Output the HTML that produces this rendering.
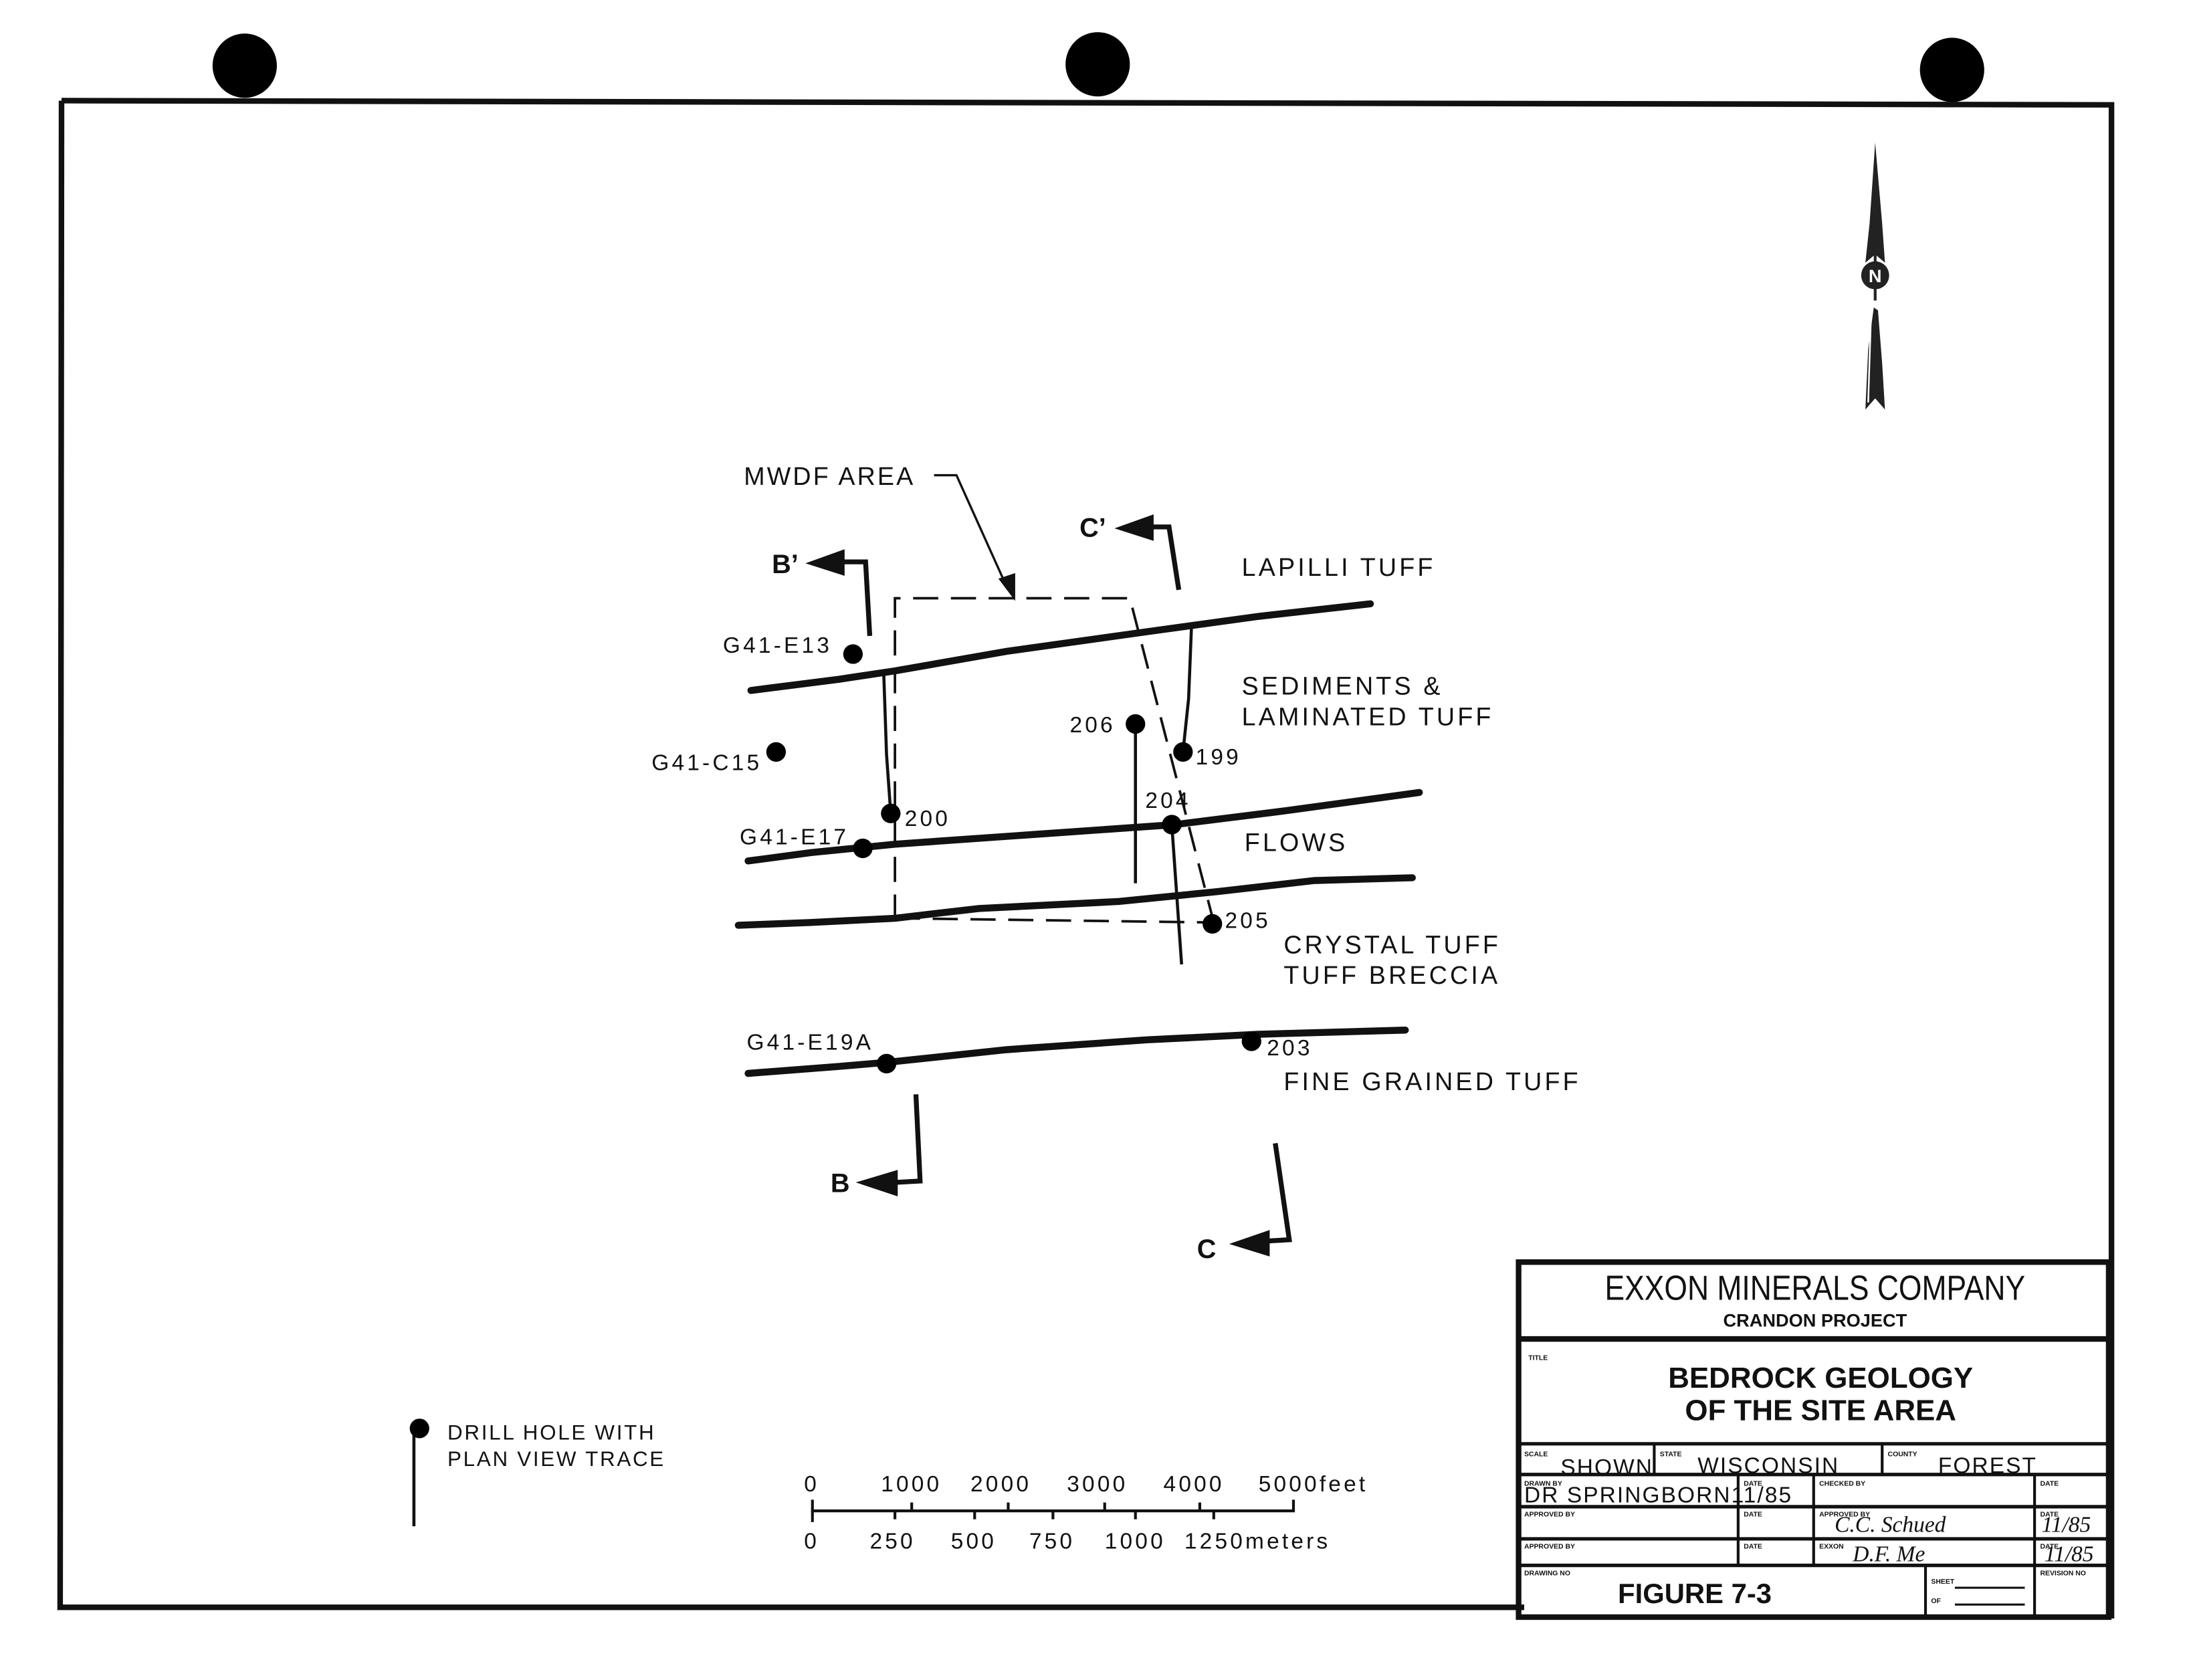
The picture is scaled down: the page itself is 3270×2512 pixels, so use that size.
<!DOCTYPE html>
<html><head><meta charset="utf-8"><style>
html,body{margin:0;padding:0;background:#fff;}
svg{display:block;}
text{font-family:"Liberation Sans",sans-serif;fill:#111;}
</style></head><body>
<svg width="3270" height="2512" viewBox="0 0 1564 1202" preserveAspectRatio="none" xmlns="http://www.w3.org/2000/svg">
<rect width="1564" height="1202" fill="#fff"/>
<circle cx="175" cy="47" r="23" fill="#000"/>
<circle cx="785" cy="46" r="23" fill="#000"/>
<circle cx="1396" cy="50" r="23" fill="#000"/>
<polyline points="44,72 1510,75 1510,1158" fill="none" stroke="#111" stroke-width="4"/>
<polyline points="44,72 43,1150 1090,1150" fill="none" stroke="#111" stroke-width="4"/>
<polygon points="1341,102 1346,160 1348,188 1341,182 1334,188 1337,160" fill="#222"/>
<line x1="1341" y1="182" x2="1341" y2="215" stroke="#222" stroke-width="2"/>
<circle cx="1341" cy="197" r="10" fill="#222"/>
<text x="1341" y="202" font-size="13" font-weight="bold" text-anchor="middle" style="fill:#fff">N</text>
<polygon points="1340,220 1343,222 1346,260 1348,293 1341,285 1334,293 1336,250" fill="#222"/>
<line x1="1338" y1="226" x2="1336" y2="288" stroke="#fff" stroke-width="1.2"/>

<g fill="none" stroke="#111" stroke-width="5" stroke-linecap="round">
<polyline points="537,494 600,486 640,480 720,466 820,452 900,441 980,432"/>
<polyline points="535,616 580,610 640,604 740,597 840,590 920,580 1015,567"/>
<polyline points="528,662 580,660 640,657 700,650 800,645 870,638 940,630 1010,628"/>
<polyline points="535,768 600,763 635,760 720,751 820,744 900,740 1005,737"/>
</g>
<g fill="none" stroke="#111" stroke-width="1.8" stroke-dasharray="18,9">
<polyline points="640,658 640,428 808,428 868,660"/>
<line x1="640" y1="657" x2="868" y2="660"/>
</g>
<polyline points="668,340 684,340 720,420" fill="none" stroke="#111" stroke-width="1.6"/>
<polygon points="714,414 726,430 726,410" fill="#111"/>
<text x="532" y="347" font-size="18" letter-spacing="1.5">MWDF AREA</text>

<g fill="none" stroke="#111" stroke-width="2.2">
<polyline points="632,482 634,540 637,582"/>
<line x1="812" y1="518" x2="812" y2="632"/>
<polyline points="852,450 850,500 846,538"/>
<line x1="838" y1="590" x2="845" y2="690"/>
<line x1="296" y1="1022" x2="296" y2="1092"/>
</g>
<g fill="#000">
<circle cx="610" cy="468" r="7"/>
<circle cx="555" cy="538" r="7"/>
<circle cx="637" cy="582" r="7"/>
<circle cx="812" cy="518" r="7"/>
<circle cx="846" cy="538" r="7"/>
<circle cx="838" cy="590" r="7"/>
<circle cx="867" cy="661" r="7"/>
<circle cx="617" cy="607" r="7"/>
<circle cx="634" cy="761" r="7"/>
<circle cx="895" cy="745" r="7"/>
<circle cx="300" cy="1022" r="7"/>
</g>
<g font-size="16" letter-spacing="2">
<text x="517" y="467">G41-E13</text>
<text x="466" y="551">G41-C15</text>
<text x="647" y="591">200</text>
<text x="765" y="524">206</text>
<text x="855" y="547">199</text>
<text x="819" y="578">204</text>
<text x="876" y="664">205</text>
<text x="529" y="604">G41-E17</text>
<text x="534" y="751">G41-E19A</text>
<text x="906" y="755">203</text>
</g>
<g font-size="18" letter-spacing="2">
<text x="888" y="412">LAPILLI TUFF</text>
<text x="888" y="497">SEDIMENTS &amp;</text>
<text x="888" y="519">LAMINATED TUFF</text>
<text x="890" y="609">FLOWS</text>
<text x="918" y="682">CRYSTAL TUFF</text>
<text x="918" y="704">TUFF BRECCIA</text>
<text x="918" y="780">FINE GRAINED TUFF</text>
</g>

<g fill="none" stroke="#111" stroke-width="3.5">
<polyline points="622,455 619,402 600,402"/>
<polyline points="843,422 836,377 822,377"/>
<polyline points="655,783 658,845 640,846"/>
<polyline points="912,818 922,887 905,888"/>
</g>
<g fill="#111">
<polygon points="576,403 604,393 604,412"/>
<polygon points="797,378 825,368 825,387"/>
<polygon points="612,846 642,837 642,856"/>
<polygon points="879,890 908,880 908,899"/>
</g>
<g font-size="19" font-weight="bold">
<text x="552" y="410">B’</text>
<text x="772" y="384">C’</text>
<text x="594" y="853">B</text>
<text x="856" y="900">C</text>
</g>

<text x="320" y="1030" font-size="15" letter-spacing="1.3">DRILL HOLE WITH</text>
<text x="320" y="1049" font-size="15" letter-spacing="1.3">PLAN VIEW TRACE</text>

<line x1="580" y1="1081" x2="926" y2="1081" stroke="#111" stroke-width="2"/>
<g stroke="#111" stroke-width="2">
<line x1="581" y1="1073" x2="581" y2="1089"/>
<line x1="652" y1="1075" x2="652" y2="1081"/>
<line x1="721" y1="1075" x2="721" y2="1081"/>
<line x1="790" y1="1075" x2="790" y2="1081"/>
<line x1="858" y1="1075" x2="858" y2="1081"/>
<line x1="925" y1="1073" x2="925" y2="1081"/>
<line x1="640" y1="1081" x2="640" y2="1087"/>
<line x1="697" y1="1081" x2="697" y2="1087"/>
<line x1="753" y1="1081" x2="753" y2="1087"/>
<line x1="812" y1="1081" x2="812" y2="1087"/>
<line x1="868" y1="1081" x2="868" y2="1087"/>
</g>
<g font-size="16" letter-spacing="2">
<text x="575" y="1067">0</text>
<text x="630" y="1067">1000</text>
<text x="694" y="1067">2000</text>
<text x="763" y="1067">3000</text>
<text x="832" y="1067">4000</text>
<text x="900" y="1067">5000feet</text>
<text x="575" y="1108">0</text>
<text x="622" y="1108">250</text>
<text x="680" y="1108">500</text>
<text x="736" y="1108">750</text>
<text x="790" y="1108">1000</text>
<text x="847" y="1108">1250meters</text>
</g>

<rect x="1086" y="903" width="422" height="254" fill="none" stroke="#111" stroke-width="4"/>
<g stroke="#111" fill="none">
<line x1="1086" y1="958" x2="1508" y2="958" stroke-width="4"/>
<line x1="1086" y1="1033" x2="1508" y2="1033" stroke-width="2.5"/>
<line x1="1086" y1="1055" x2="1508" y2="1055" stroke-width="2.5"/>
<line x1="1086" y1="1078" x2="1508" y2="1078" stroke-width="2.5"/>
<line x1="1086" y1="1101" x2="1508" y2="1101" stroke-width="2.5"/>
<line x1="1086" y1="1120" x2="1508" y2="1120" stroke-width="2.5"/>
<line x1="1183" y1="1033" x2="1183" y2="1055" stroke-width="2"/>
<line x1="1346" y1="1033" x2="1346" y2="1055" stroke-width="2"/>
<line x1="1243" y1="1055" x2="1243" y2="1120" stroke-width="2"/>
<line x1="1297" y1="1055" x2="1297" y2="1120" stroke-width="2"/>
<line x1="1455" y1="1055" x2="1455" y2="1157" stroke-width="2"/>
<line x1="1377" y1="1120" x2="1377" y2="1157" stroke-width="2"/>
<line x1="1398" y1="1136" x2="1448" y2="1136" stroke-width="1.5"/>
<line x1="1398" y1="1148" x2="1448" y2="1148" stroke-width="1.5"/>
</g>
<text x="1298" y="930" font-size="25" text-anchor="middle" transform="translate(1298,0) scale(0.85,1) translate(-1298,0)">EXXON MINERALS COMPANY</text>
<text x="1298" y="949" font-size="13" font-weight="bold" text-anchor="middle">CRANDON PROJECT</text>
<text x="1302" y="993" font-size="21" font-weight="bold" text-anchor="middle">BEDROCK GEOLOGY</text>
<text x="1302" y="1016" font-size="21" font-weight="bold" text-anchor="middle">OF THE SITE AREA</text>
<text x="1212" y="1147" font-size="20" font-weight="bold" text-anchor="middle">FIGURE 7-3</text>
<g font-size="5" font-weight="bold">
<text x="1093" y="973">TITLE</text>
<text x="1090" y="1042">SCALE</text>
<text x="1187" y="1042">STATE</text>
<text x="1350" y="1042">COUNTY</text>
<text x="1090" y="1063">DRAWN BY</text>
<text x="1247" y="1063">DATE</text>
<text x="1301" y="1063">CHECKED BY</text>
<text x="1459" y="1063">DATE</text>
<text x="1090" y="1085">APPROVED BY</text>
<text x="1247" y="1085">DATE</text>
<text x="1301" y="1085">APPROVED BY</text>
<text x="1459" y="1085">DATE</text>
<text x="1090" y="1108">APPROVED BY</text>
<text x="1247" y="1108">DATE</text>
<text x="1301" y="1108">EXXON</text>
<text x="1459" y="1108">DATE</text>
<text x="1090" y="1127">DRAWING NO</text>
<text x="1381" y="1133">SHEET</text>
<text x="1381" y="1147">OF</text>
<text x="1459" y="1127">REVISION NO</text>
</g>
<g font-size="16" letter-spacing="1">
<text x="1116" y="1055">SHOWN</text>
<text x="1214" y="1054">WISCONSIN</text>
<text x="1386" y="1054">FOREST</text>
<text x="1090" y="1075">DR SPRINGBORN11/85</text>
</g>
<g font-size="16" font-style="italic">
<text x="1312" y="1096" style="font-family:'Liberation Serif',serif">C.C. Schued</text>
<text x="1460" y="1096" style="font-family:'Liberation Serif',serif">11/85</text>
<text x="1325" y="1117" style="font-family:'Liberation Serif',serif">D.F. Me</text>
<text x="1462" y="1117" style="font-family:'Liberation Serif',serif">11/85</text>
</g>
</svg>
</body></html>
